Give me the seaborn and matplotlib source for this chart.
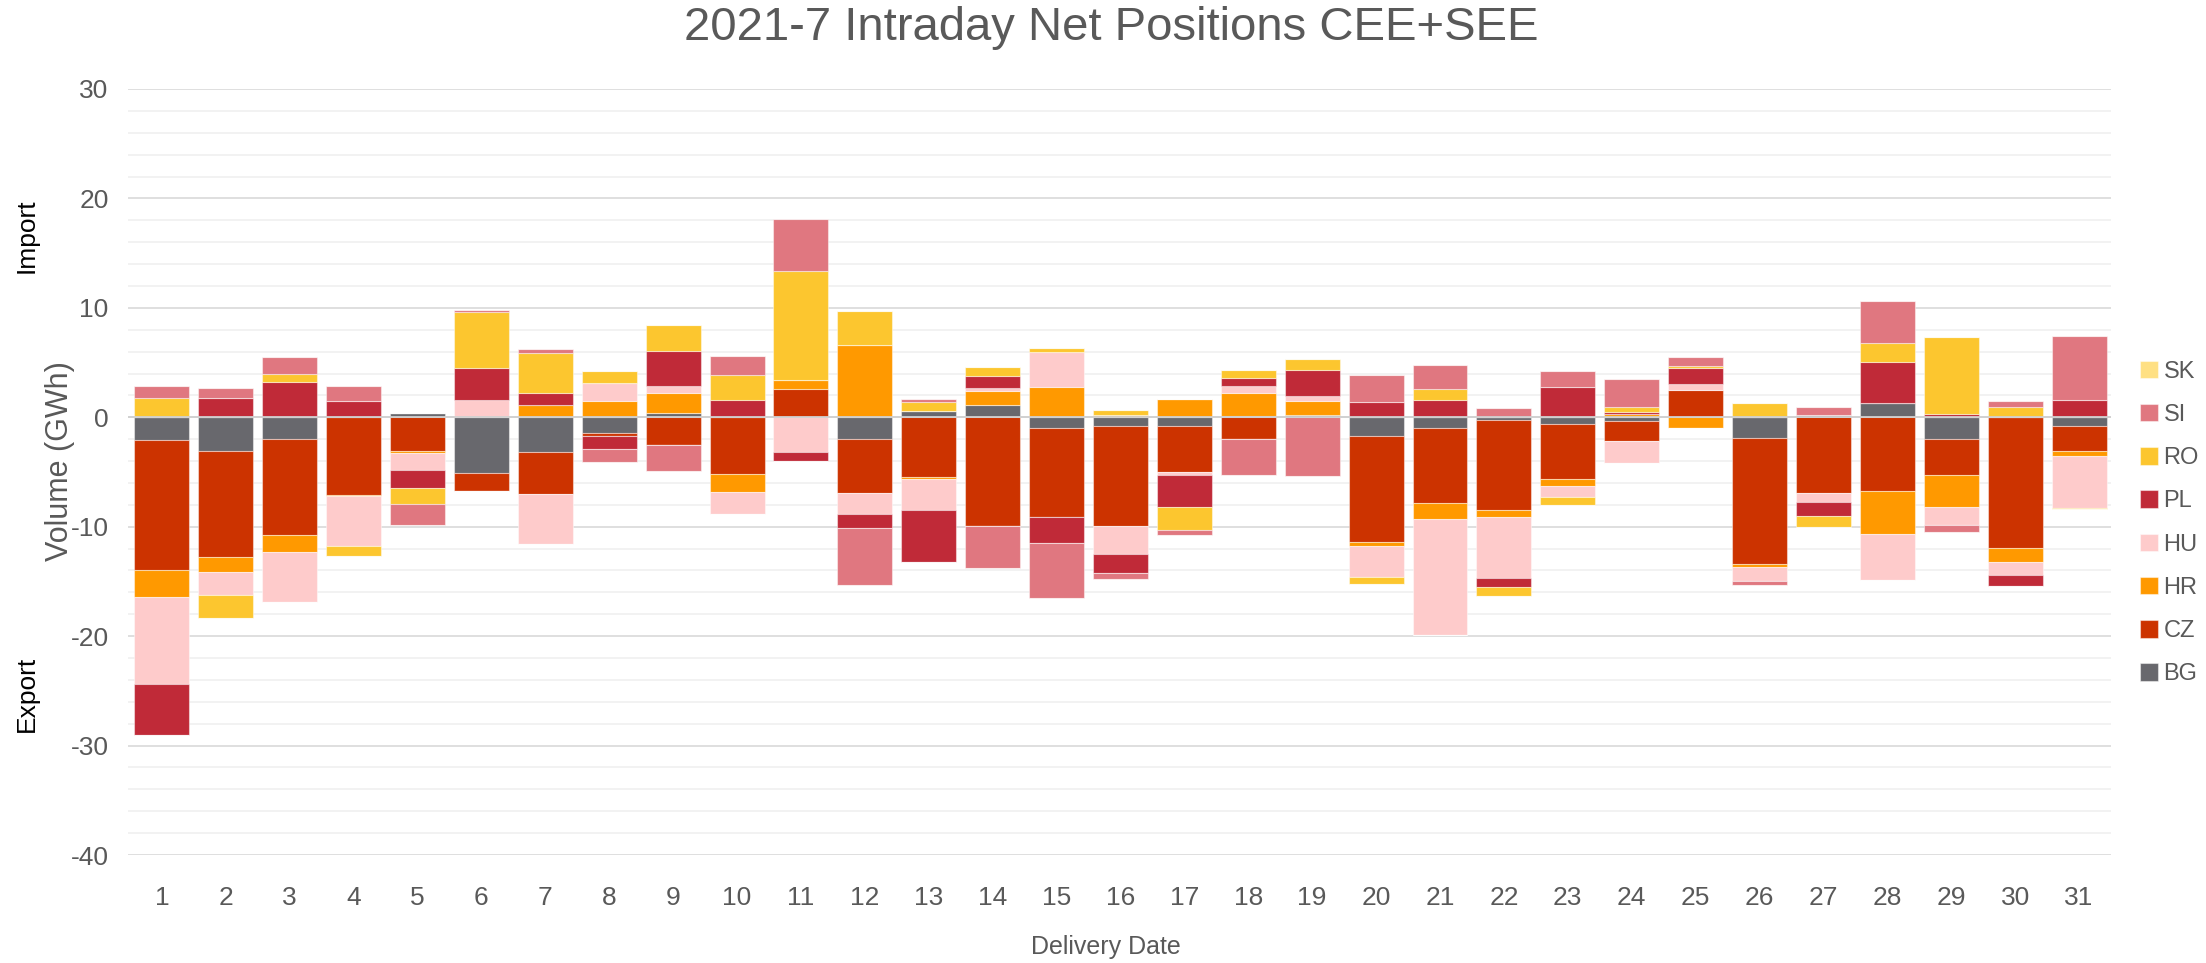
import numpy as np
import matplotlib
matplotlib.use("Agg")
import matplotlib.pyplot as plt
import seaborn as sns
from matplotlib.ticker import MultipleLocator

days = [str(d) for d in range(1, 32)]
countries = ["BG", "CZ", "HR", "HU", "PL", "RO", "SI", "SK"]

BG = [-2.1, -3.1, -2.0, 0, 0.4, -5.1, -3.2, -1.4, 0.4, 0, 0, -2.0, 0.6, 1.1, -1.0, -0.8,
      -0.8, 0.15, 0.25, -1.7, -1.0, -0.25, -0.6, -0.3, 0, -1.9, 0.25, 1.3, -2.0, 0, -0.8]
CZ = [-11.9, -9.7, -8.8, -7.1, -3.1, -1.6, -3.8, -0.3, -2.5, -5.2, 2.6, -4.9, -5.5, -9.9, -8.1, -9.1,
      -4.2, -2.0, 0, -9.7, -6.8, -8.2, -5.0, -1.9, 2.5, -11.5, -6.9, -6.7, -3.3, -11.9, -2.3]
HR = [-2.4, -1.3, -1.5, -0.1, -0.2, 0, 1.1, 1.5, 1.8, -1.6, 0.8, 6.6, -0.1, 1.3, 2.8, 0.2,
      1.7, 2.1, 1.2, -0.4, -1.5, -0.65, -0.7, 0.3, -0.95, -0.25, 0, -4.0, -2.9, -1.3, -0.45]
HU = [-8.0, -2.1, -4.6, -4.6, -1.5, 1.6, -4.6, 1.6, 0.7, -2.0, -3.2, -1.9, -2.9, 0.3, 3.2, -2.6,
      -0.3, 0.65, 0.5, -2.8, -10.6, -5.6, -1.0, -2.0, 0.5, -1.3, -0.85, -4.2, -1.6, -1.25, -4.7]
PL = [-4.6, 1.8, 3.2, 1.5, -1.7, 2.9, 1.1, -1.2, 3.2, 1.6, -0.8, -1.3, -4.7, 1.1, -2.4, -1.7,
      -2.9, 0.7, 2.4, 1.4, 1.6, -0.85, 2.8, 0.2, 1.5, 0, -1.3, 3.75, 0.3, -1.0, 1.6]
RO = [1.8, -2.1, 0.8, -0.9, -1.4, 5.1, 3.7, 1.1, 2.3, 2.3, 10.0, 3.1, 0.8, 0.75, 0.3, 0.5,
      -2.1, 0.7, 1.0, -0.6, 1.0, -0.8, -0.7, 0.4, 0.2, 1.3, -1.0, 1.7, 7.0, 0.95, -0.13]
SI = [1.1, 0.85, 1.5, 1.4, -1.9, 0.2, 0.3, -1.2, -2.4, 1.7, 4.7, -5.2, 0.3, -3.9, -5.0, -0.6,
      -0.5, -3.3, -5.4, 2.5, 2.2, 0.85, 1.4, 2.6, 0.8, -0.35, 0.7, 3.85, -0.7, 0.55, 5.8]
SK = [0] * 31

series = {"BG": BG, "CZ": CZ, "HR": HR, "HU": HU, "PL": PL, "RO": RO, "SI": SI, "SK": SK}
colors = {"BG": "#68686D", "CZ": "#CC3300", "HR": "#FF9900", "HU": "#FECBCB",
          "PL": "#C02A38", "RO": "#FCC62F", "SI": "#E07780", "SK": "#FFE083"}

sns.set_theme(style="white")
plt.rcParams["font.family"] = ["Liberation Sans", "DejaVu Sans"]
plt.rcParams["axes.unicode_minus"] = False
TXT = "#595959"

fig = plt.figure(figsize=(22.06, 9.63), dpi=100)
ax = fig.add_axes([128 / 2206, 1 - 855 / 963, (2111 - 128) / 2206, (855 - 89) / 963])

x = np.arange(len(days))
pos_base = np.zeros(len(days))
neg_base = np.zeros(len(days))
handles = {}
for c in countries:
    v = np.array(series[c], dtype=float)
    pv = np.where(v > 0, v, 0)
    nv = np.where(v < 0, v, 0)
    h = ax.bar(x, pv, bottom=pos_base, width=0.86, color=colors[c],
               edgecolor=(1, 1, 1, 0.45), linewidth=0.8, zorder=3, label=c)
    ax.bar(x, nv, bottom=neg_base, width=0.86, color=colors[c],
           edgecolor=(1, 1, 1, 0.45), linewidth=0.8, zorder=3)
    handles[c] = h
    pos_base += pv
    neg_base += nv

ax.axhline(0, color="#D0D0D0", lw=1.3, zorder=4)
ax.set_ylim(-40, 30)
ax.set_xlim(-0.53, 30.5)
ax.yaxis.set_major_locator(MultipleLocator(10))
ax.yaxis.set_minor_locator(MultipleLocator(2))
ax.grid(True, which="major", axis="y", color="#D9D9D9", lw=1.2, zorder=0)
ax.grid(True, which="minor", axis="y", color="#F0F0F0", lw=1.2, zorder=0)
ax.grid(False, axis="x")
for s in ax.spines.values():
    s.set_visible(False)
ax.set_xticks(x)
ax.set_xticklabels(days)
ax.tick_params(axis="x", which="both", length=0, pad=22, labelsize=19, labelcolor=TXT)
ax.tick_params(axis="y", which="both", length=0, pad=14, labelsize=19, labelcolor=TXT)

fig.text(1111 / 2206, 1 - 28 / 963, "2021-7 Intraday Net Positions CEE+SEE",
         ha="center", va="center", fontsize=34, color=TXT)
fig.text(1106 / 2206, 1 - 947 / 963, "Delivery Date", ha="center", va="center",
         fontsize=18, color=TXT)
fig.text(60 / 2206, 1 - 461 / 963, "Volume (GWh)", ha="center", va="center",
         rotation=90, fontsize=22, color=TXT)
fig.text(27 / 2206, 1 - 236 / 963, "Import", ha="center", va="center",
         rotation=90, fontsize=19, color="black")
fig.text(27 / 2206, 1 - 694 / 963, "Export", ha="center", va="center",
         rotation=90, fontsize=19, color="black")

order = ["SK", "SI", "RO", "PL", "HU", "HR", "CZ", "BG"]
leg = fig.legend([handles[c] for c in order], order, loc="center left",
                 bbox_to_anchor=(2128 / 2206, 1 - 523 / 963), frameon=False,
                 fontsize=17, labelcolor=TXT, handlelength=0.75, handleheight=0.75,
                 handletextpad=0.25, labelspacing=0.9, borderpad=0)

fig.savefig("out.png", dpi=100)
